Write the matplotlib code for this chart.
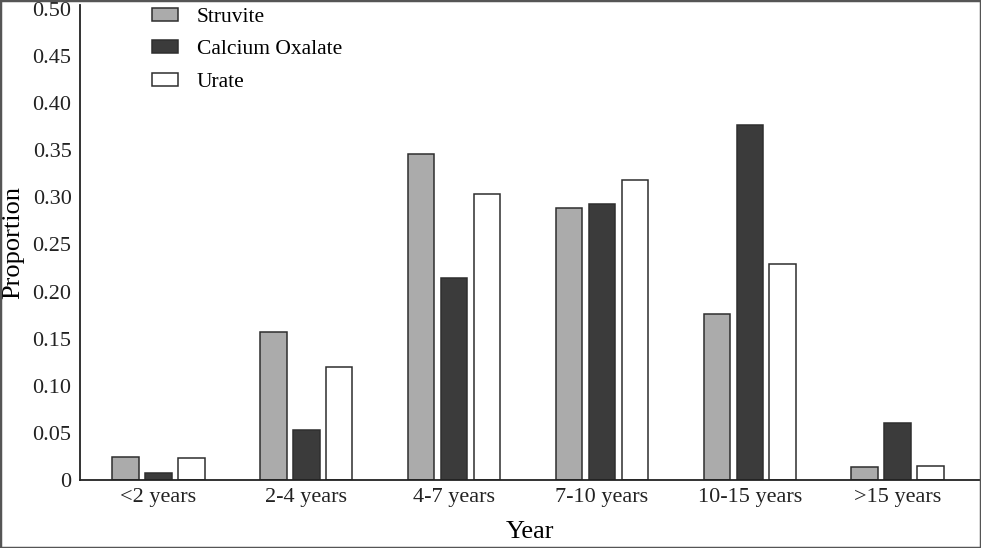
import numpy as np
import matplotlib.pyplot as plt
from matplotlib.patches import Rectangle

# Datos
categorias = ['<2 years', '2-4 years', '4-7 years', '7-10 years', '10-15 years', '>15 years']
struvite = [0.024, 0.157, 0.346, 0.289, 0.176, 0.014]
calcium_oxalate = [0.008, 0.053, 0.214, 0.293, 0.377, 0.061]
urate = [0.023, 0.120, 0.303, 0.318, 0.229, 0.015]
yticks = [0, 0.05, 0.10, 0.15, 0.20, 0.25, 0.30, 0.35, 0.40, 0.45, 0.50]

plt.rcParams['font.family'] = ['Liberation Serif', 'DejaVu Serif']

fig = plt.figure(figsize=(9.81, 5.48), dpi=100)
ax = fig.add_axes([0.0815, 0.124, 0.918, 0.867])

x = np.arange(len(categorias))
w = 0.18
paso = 0.223
borde = '#2e2e2e'
ax.bar(x - paso, struvite, w, color='#ababab', edgecolor=borde, linewidth=1.1, label='Struvite')
ax.bar(x, calcium_oxalate, w, color='#3b3b3b', edgecolor=borde, linewidth=1.1, label='Calcium Oxalate')
ax.bar(x + paso, urate, w, color='white', edgecolor=borde, linewidth=1.1, label='Urate')

ax.set_xlim(-0.53, 5.56)
ax.set_ylim(0, 0.504)
ax.set_xticks(x)
ax.set_xticklabels(categorias, fontsize=16)
ax.set_yticks(yticks)
ax.set_yticklabels(['0' if v == 0 else f'{v:.2f}' for v in yticks], fontsize=16)
ax.tick_params(length=0, pad=6, colors='#222222')

for s in ['top', 'right']:
    ax.spines[s].set_visible(False)
for s in ['left', 'bottom']:
    ax.spines[s].set_linewidth(1.3)
    ax.spines[s].set_color('#222222')

ax.set_ylabel('Proportion', fontsize=19, labelpad=6)
ax.set_xlabel('Year', fontsize=19, labelpad=10)

ax.legend(loc='upper left', bbox_to_anchor=(0.058, 1.035), frameon=False,
          fontsize=15.5, handlelength=1.25, handleheight=0.55, labelspacing=0.62,
          handletextpad=0.85)

# marco gris de la captura
fig.patches.append(Rectangle((0, 0), 1, 1, transform=fig.transFigure,
                             fill=False, edgecolor='#555555', linewidth=2.5))

plt.savefig('out.png', dpi=100)
